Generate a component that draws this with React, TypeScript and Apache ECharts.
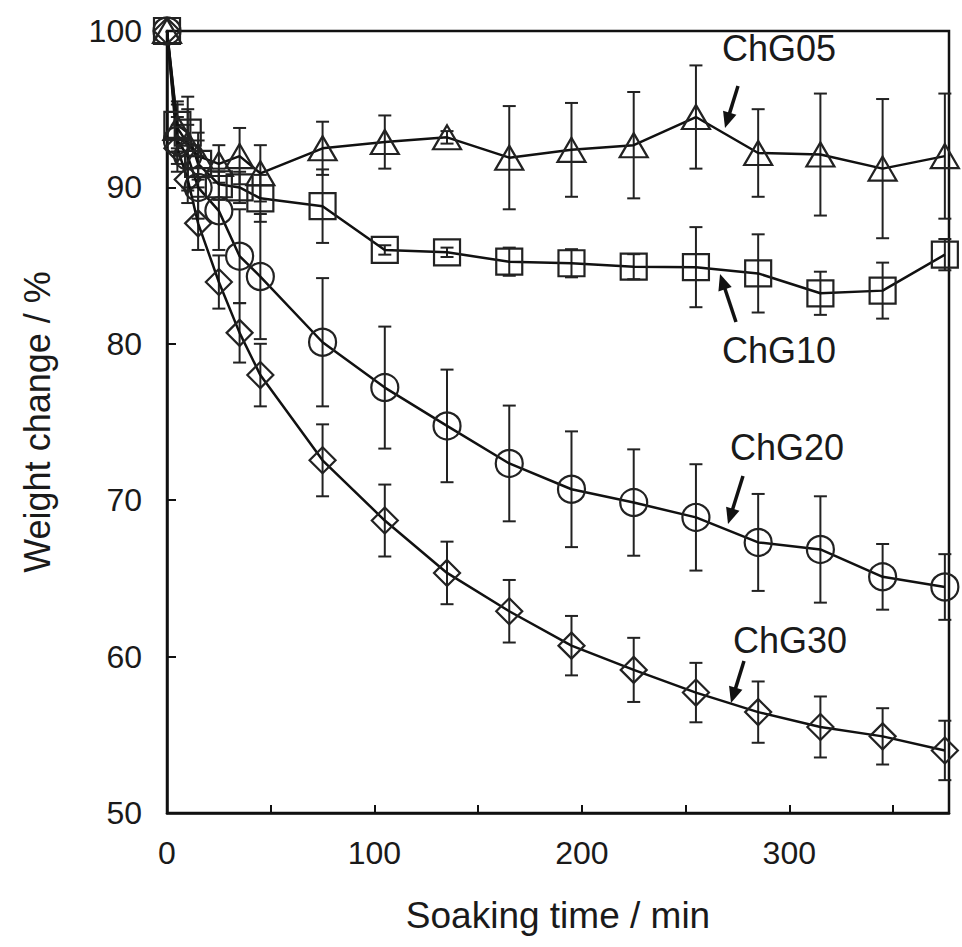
import React, { useEffect, useRef } from "react";
import * as echarts from "echarts";

const times = [0, 5, 10, 15, 25, 35, 45, 75, 105, 135, 165, 195, 225, 255, 285, 315, 345, 375];

const chg05 = [100, 93.8, 92.8, 92.0, 91.5, 92.0, 90.9, 92.5, 92.9, 93.2, 91.9, 92.4, 92.7, 94.5, 92.2, 92.1, 91.2, 92.0];
const chg05Err = [0, 1.5, 3.0, 1.5, 1.2, 1.8, 1.8, 1.7, 1.7, 0.4, 3.3, 3.0, 3.4, 3.3, 2.8, 3.9, 4.45, 4.0];

const chg10 = [100, 94.0, 93.5, 91.5, 90.2, 90.0, 89.3, 88.8, 86.0, 85.85, 85.25, 85.15, 84.93, 84.9, 84.5, 83.23, 83.4, 85.7];
const chg10Err = [0, 1.5, 1.5, 1.5, 1.0, 1.0, 1.5, 2.35, 0.3, 0.3, 0.9, 0.9, 0.8, 2.56, 2.5, 1.38, 1.79, 1.0];

const chg20 = [100, 93.0, 92.0, 90.0, 88.5, 85.6, 84.3, 80.1, 77.2, 74.75, 72.35, 70.7, 69.85, 68.9, 67.3, 66.85, 65.1, 64.45];
const chg20Err = [0, 1.5, 2.0, 2.0, 2.5, 3.0, 4.0, 4.1, 3.9, 3.6, 3.7, 3.7, 3.4, 3.4, 3.1, 3.4, 2.1, 2.1];

const chg30 = [100, 92.5, 90.5, 87.7, 83.95, 80.7, 78.0, 72.55, 68.7, 65.35, 62.9, 60.7, 59.15, 57.7, 56.45, 55.5, 54.9, 54.0];
const chg30Err = [0, 1.5, 1.5, 1.7, 1.7, 1.9, 2.0, 2.3, 2.3, 2.0, 2.0, 1.9, 2.05, 1.9, 1.96, 1.95, 1.8, 1.9];

const seriesNames = ["ChG05", "ChG10", "ChG20", "ChG30"];
const xTickLabels = ["0", "100", "200", "300"];

const FONT = "'Liberation Sans', Arial, sans-serif";
const INK = "#111111";

function arrow(x1: number, y1: number, x2: number, y2: number) {
  const dx = x2 - x1, dy = y2 - y1;
  const len = Math.sqrt(dx * dx + dy * dy);
  const ux = dx / len, uy = dy / len;
  const nx = -uy, ny = ux;
  const hl = 16, hw = 7;
  const bx = x2 - ux * hl, by = y2 - uy * hl;
  return [
    { type: "line", shape: { x1, y1, x2: bx + ux * 2, y2: by + uy * 2 }, style: { stroke: INK, lineWidth: 3.5 } },
    {
      type: "polygon",
      shape: { points: [[x2, y2], [bx + nx * hw, by + ny * hw], [bx - nx * hw, by - ny * hw]] },
      style: { fill: INK },
    },
  ];
}

export default function App() {
  const ref = useRef<HTMLDivElement>(null);
  useEffect(() => {
    if (!ref.current) return;
    const chart = echarts.init(ref.current, null, { renderer: "svg" });
    const all = [chg05, chg10, chg20, chg30];
    const errs = [chg05Err, chg10Err, chg20Err, chg30Err];
    const symbols = ["triangle", "rect", "circle", "diamond"];
    const sizes: any[] = [[28, 24], [26, 26], 27, [26, 26]];

    const lineSeries = all.map((vals, i) => ({
      name: seriesNames[i],
      type: "line",
      data: times.map((t, j) => [t, vals[j]]),
      symbol: symbols[i],
      symbolSize: sizes[i],
      showSymbol: true,
      lineStyle: { color: INK, width: 2.5 },
      itemStyle: { color: "none", borderColor: "#222", borderWidth: 2.2 },
      z: 3,
    }));

    const errSeries = errs.map((e, i) => ({
      type: "custom",
      data: times.map((t, j) => [t, all[i][j], e[j]]),
      renderItem: (params: any, api: any) => {
        const x = api.value(0), y = api.value(1), er = api.value(2);
        if (!er) return null;
        const top = api.coord([x, y + er]);
        const bot = api.coord([x, y - er]);
        const hw = 6.5;
        const st = { stroke: "#222", lineWidth: 2 };
        return {
          type: "group",
          children: [
            { type: "line", shape: { x1: top[0], y1: top[1], x2: bot[0], y2: bot[1] }, style: st },
            { type: "line", shape: { x1: top[0] - hw, y1: top[1], x2: top[0] + hw, y2: top[1] }, style: st },
            { type: "line", shape: { x1: bot[0] - hw, y1: bot[1], x2: bot[0] + hw, y2: bot[1] }, style: st },
          ],
        };
      },
      z: 2,
    }));

    const labelStyle = { fontFamily: FONT, fontSize: 36, fill: "#1a1a1a" };
    const option: any = {
      animation: false,
      backgroundColor: "#ffffff",
      grid: { left: 167, right: 13, top: 31, bottom: 134, show: true, borderColor: INK, borderWidth: 2.5, containLabel: false },
      xAxis: {
        type: "value",
        min: 0,
        max: 377,
        interval: 50,
        name: "Soaking time / min",
        nameLocation: "middle",
        nameGap: 84,
        nameTextStyle: { fontFamily: FONT, fontSize: 37, color: "#1a1a1a" },
        axisLine: { show: true, lineStyle: { color: INK, width: 2.5 } },
        axisTick: { show: true, inside: true, length: 8, lineStyle: { color: INK, width: 2 } },
        axisLabel: {
          margin: 24,
          fontFamily: FONT,
          fontSize: 32,
          color: "#1a1a1a",
          formatter: (v: number) => (xTickLabels.includes(String(v)) ? String(v) : ""),
        },
        splitLine: { show: false },
      },
      yAxis: {
        type: "value",
        min: 50,
        max: 100,
        interval: 10,
        name: "Weight change / %",
        nameLocation: "middle",
        nameGap: 112,
        nameTextStyle: { fontFamily: FONT, fontSize: 36, color: "#1a1a1a" },
        axisLine: { show: true, lineStyle: { color: INK, width: 2.5 } },
        axisTick: { show: true, inside: true, length: 9, lineStyle: { color: INK, width: 2 } },
        axisLabel: { margin: 25, fontFamily: FONT, fontSize: 32, color: "#1a1a1a" },
        splitLine: { show: false },
      },
      graphic: [
        { type: "text", left: 722, top: 30, style: { text: "ChG05", ...labelStyle } },
        { type: "text", left: 722, top: 332, style: { text: "ChG10", ...labelStyle } },
        { type: "text", left: 730, top: 429, style: { text: "ChG20", ...labelStyle } },
        { type: "text", left: 733, top: 622, style: { text: "ChG30", ...labelStyle } },
        ...arrow(738, 86, 725, 128),
        ...arrow(736, 322, 720, 274),
        ...arrow(743, 476, 728, 524),
        ...arrow(744, 661, 731, 703),
      ],
      series: [...errSeries, ...lineSeries],
    };
    chart.setOption(option);
    return () => chart.dispose();
  }, []);
  return (
    <div
      ref={ref}
      style={{ position: "fixed", left: 0, top: 0, width: 962, height: 947, background: "#fff" }}
    />
  );
}
